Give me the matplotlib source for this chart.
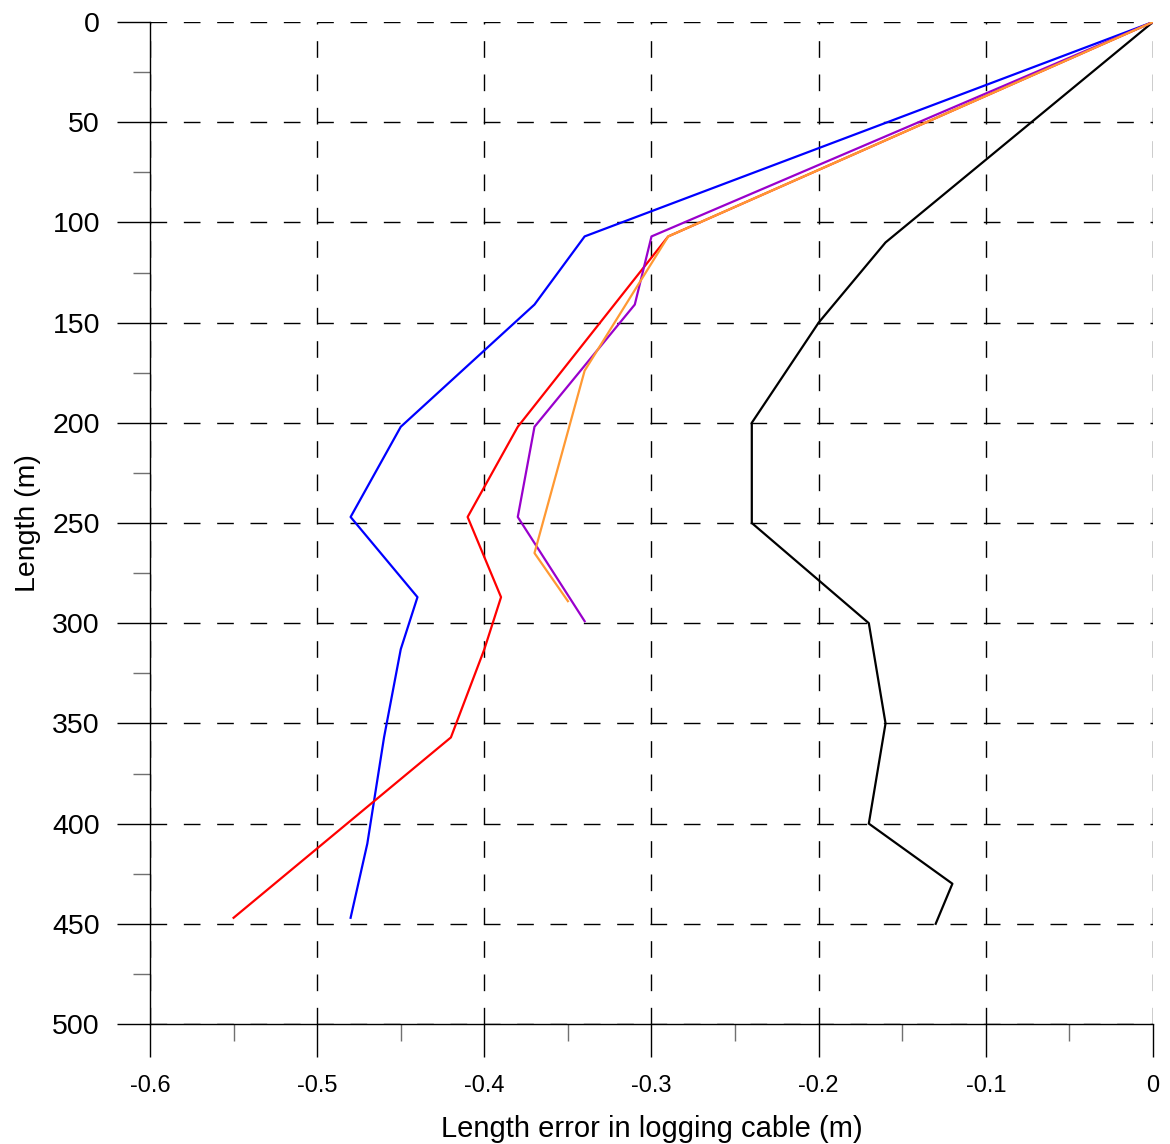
import numpy as np
import matplotlib
matplotlib.use('Agg')
import matplotlib.pyplot as plt
from matplotlib.ticker import MultipleLocator

plt.rcParams['font.family'] = ['Liberation Sans', 'DejaVu Sans']

# length error (m) vs cable length (m)
black_x = [0, -0.16, -0.20, -0.24, -0.24, -0.17, -0.16, -0.17, -0.12, -0.13]
black_y = [0, 110, 150, 200, 250, 300, 350, 400, 430, 450]

blue_x = [0, -0.34, -0.37, -0.45, -0.48, -0.44, -0.45, -0.46, -0.47, -0.48]
blue_y = [0, 107, 141, 202, 247, 287, 313, 357, 410, 447]

red_x = [0, -0.29, -0.38, -0.41, -0.39, -0.40, -0.42, -0.55]
red_y = [0, 107, 202, 247, 287, 313, 357, 447]

purple_x = [0, -0.30, -0.31, -0.37, -0.38, -0.34]
purple_y = [0, 107, 141, 202, 247, 299]

orange_x = [0, -0.29, -0.34, -0.37, -0.35]
orange_y = [0, 107, 174, 265, 289]

fig = plt.figure(figsize=(11.7, 11.44), dpi=100)
ax = fig.add_axes([150 / 1170, 120 / 1144, 1003 / 1170, 1002 / 1144])

lw = 1.6
ax.plot(black_x, black_y, color='black', lw=lw, zorder=3)
ax.plot(blue_x, blue_y, color='#0000ff', lw=lw, zorder=3)
ax.plot(red_x, red_y, color='#ff0000', lw=lw, zorder=3)
ax.plot(purple_x, purple_y, color='#9900cc', lw=lw, zorder=3)
ax.plot(orange_x, orange_y, color='#ff9933', lw=lw, zorder=3)

ax.set_xlim(-0.6, 0)
ax.set_ylim(500, 0)

ax.xaxis.set_major_locator(MultipleLocator(0.1))
ax.xaxis.set_minor_locator(MultipleLocator(0.05))
ax.yaxis.set_major_locator(MultipleLocator(50))
ax.yaxis.set_minor_locator(MultipleLocator(25))
ax.xaxis.set_major_formatter(lambda v, p: '0' if abs(v) < 1e-9 else f'{v:.1f}')

# grey-black dashed grid
ax.grid(True, which='major', color='black', lw=1.0, linestyle=(0, (12, 12)))
ax.set_axisbelow(True)

for s in ['top', 'right']:
    ax.spines[s].set_visible(False)
for s in ['left', 'bottom']:
    ax.spines[s].set_linewidth(1.0)
    ax.spines[s].set_zorder(2)

ax.tick_params(which='major', direction='out', length=24, width=1.0, color='black')
ax.tick_params(which='minor', direction='out', length=12, width=1.0, color='#707070')
ax.tick_params(axis='y', which='major', labelsize=20.5, pad=12)
ax.tick_params(axis='x', which='major', labelsize=17, pad=13)

ax.set_xlabel('Length error in logging cable (m)', fontsize=21, labelpad=13)
ax.set_ylabel('Length (m)', fontsize=20.5, labelpad=8.5)

fig.savefig('out.png', dpi=100)
